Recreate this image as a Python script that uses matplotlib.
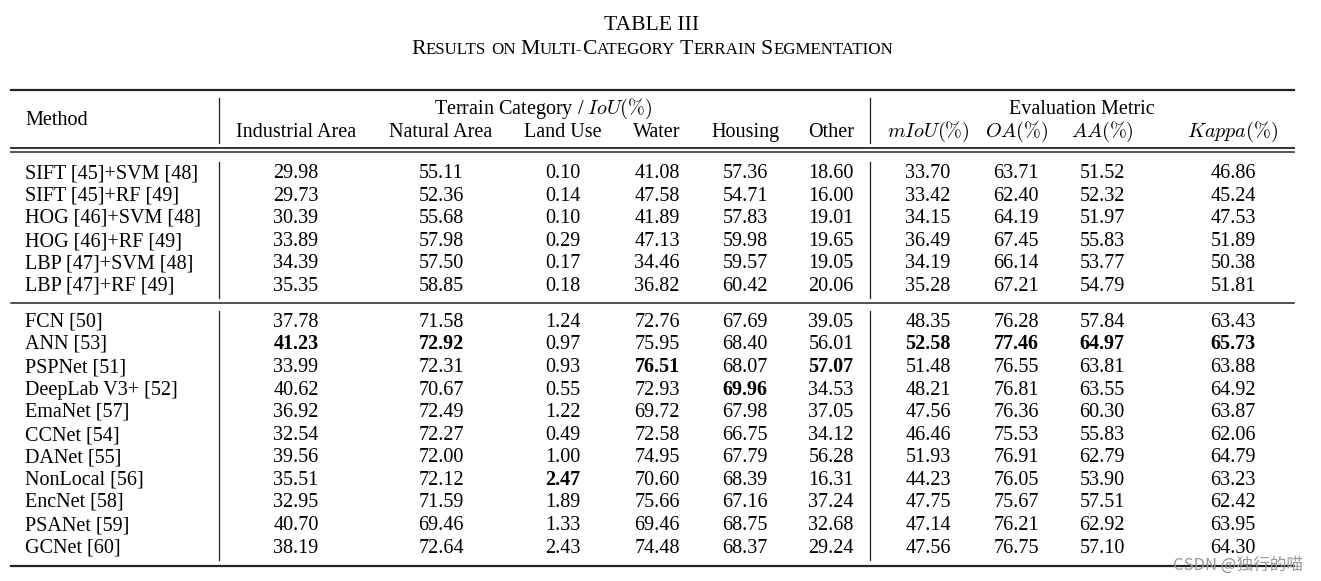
import matplotlib
matplotlib.use("Agg")
import matplotlib.pyplot as plt

plt.rcParams['font.family'] = ['Liberation Serif', 'DejaVu Serif']
plt.rcParams['mathtext.fontset'] = 'cm'

# table data
methods = ["SIFT [45]+SVM [48]", "SIFT [45]+RF [49]", "HOG [46]+SVM [48]", "HOG [46]+RF [49]",
           "LBP [47]+SVM [48]", "LBP [47]+RF [49]",
           "FCN [50]", "ANN [53]", "PSPNet [51]", "DeepLab V3+ [52]", "EmaNet [57]", "CCNet [54]",
           "DANet [55]", "NonLocal [56]", "EncNet [58]", "PSANet [59]", "GCNet [60]"]
industrial = ["29.98", "29.73", "30.39", "33.89", "34.39", "35.35",
              "37.78", "41.23", "33.99", "40.62", "36.92", "32.54", "39.56", "35.51", "32.95", "40.70", "38.19"]
natural = ["55.11", "52.36", "55.68", "57.98", "57.50", "58.85",
           "71.58", "72.92", "72.31", "70.67", "72.49", "72.27", "72.00", "72.12", "71.59", "69.46", "72.64"]
land_use = ["0.10", "0.14", "0.10", "0.29", "0.17", "0.18",
            "1.24", "0.97", "0.93", "0.55", "1.22", "0.49", "1.00", "2.47", "1.89", "1.33", "2.43"]
water = ["41.08", "47.58", "41.89", "47.13", "34.46", "36.82",
         "72.76", "75.95", "76.51", "72.93", "69.72", "72.58", "74.95", "70.60", "75.66", "69.46", "74.48"]
housing = ["57.36", "54.71", "57.83", "59.98", "59.57", "60.42",
           "67.69", "68.40", "68.07", "69.96", "67.98", "66.75", "67.79", "68.39", "67.16", "68.75", "68.37"]
other = ["18.60", "16.00", "19.01", "19.65", "19.05", "20.06",
         "39.05", "56.01", "57.07", "34.53", "37.05", "34.12", "56.28", "16.31", "37.24", "32.68", "29.24"]
miou = ["33.70", "33.42", "34.15", "36.49", "34.19", "35.28",
        "48.35", "52.58", "51.48", "48.21", "47.56", "46.46", "51.93", "44.23", "47.75", "47.14", "47.56"]
oa = ["63.71", "62.40", "64.19", "67.45", "66.14", "67.21",
      "76.28", "77.46", "76.55", "76.81", "76.36", "75.53", "76.91", "76.05", "75.67", "76.21", "76.75"]
aa = ["51.52", "52.32", "51.97", "55.83", "53.77", "54.79",
      "57.84", "64.97", "63.81", "63.55", "60.30", "55.83", "62.79", "53.90", "57.51", "62.92", "57.10"]
kappa = ["46.86", "45.24", "47.53", "51.89", "50.38", "51.81",
         "63.43", "65.73", "63.88", "64.92", "63.87", "62.06", "64.79", "63.23", "62.42", "63.95", "64.30"]

columns = [industrial, natural, land_use, water, housing, other, miou, oa, aa, kappa]
col_names = ["Industrial Area", "Natural Area", "Land Use", "Water", "Housing", "Other",
             r"$mIoU(\%)$", r"$OA(\%)$", r"$AA(\%)$", r"$Kappa(\%)$"]
# best values (row, column) in bold
bold_cells = [(7, 0), (7, 1), (13, 2), (8, 3), (9, 4), (8, 5), (7, 6), (7, 7), (7, 8), (7, 9)]

col_x = [296, 441, 563, 657, 745, 831, 928, 1016, 1102, 1233]
row_y = [172, 195, 217, 240, 262, 285,
         321, 343, 366, 389, 411, 434, 456, 479, 501, 524, 547]
fs = 14.5
base = 6  # baseline offset below row centre

fig = plt.figure(figsize=(13.21, 5.81), dpi=100)
ax = fig.add_axes([0, 0, 1, 1])
ax.set_xlim(0, 1321)
ax.set_ylim(581, 0)
ax.axis('off')

# title
ax.text(652, 30, "TABLE III", ha='center', va='baseline', fontsize=15.6)

big, small = 15.6, 12.2
title_words = [[("R", big), ("ESULTS", small)], [("ON", small)],
               [("M", big), ("ULTI-", small), ("C", big), ("ATEGORY", small)],
               [("T", big), ("ERRAIN", small)], [("S", big), ("EGMENTATION", small)]]
renderer = fig.canvas.get_renderer()
pieces = []
x = 0
gap = 5
for word in title_words:
    for s, size in word:
        t = ax.text(x, 54.5, s, fontsize=size, ha='left', va='baseline')
        w = t.get_window_extent(renderer).width
        pieces.append(t)
        x += w
    x += gap
total = x - gap
shift = 652 - total / 2
for t in pieces:
    px, py = t.get_position()
    t.set_position((px + shift, py))

# rules
ax.plot([11, 1294], [90, 90], color='#222222', lw=1.6)
ax.plot([11, 1294], [147.5, 147.5], color='#333333', lw=1.4)
ax.plot([11, 1294], [151.5, 151.5], color='#555555', lw=1.4)
ax.plot([11, 1294], [303, 303], color='#222222', lw=1.1)
ax.plot([11, 1294], [566, 566], color='#222222', lw=1.6)
for vx in (219, 870):
    ax.plot([vx, vx], [98, 143], color='#222222', lw=0.9)
    ax.plot([vx, vx], [162, 298], color='#222222', lw=0.9)
    ax.plot([vx, vx], [311, 560], color='#222222', lw=0.9)

# header
ax.text(25, 119 + base, "Method", ha='left', va='baseline', fontsize=fs)
ax.text(543, 108 + base, r"Terrain Category / $IoU(\%)$", ha='center', va='baseline', fontsize=fs)
ax.text(1082, 108 + base, "Evaluation Metric", ha='center', va='baseline', fontsize=fs)
for cx, name in zip(col_x, col_names):
    ax.text(cx, 131 + base, name, ha='center', va='baseline', fontsize=fs)

# body
for i, (m, ry) in enumerate(zip(methods, row_y)):
    ax.text(25, ry + base, m, ha='left', va='baseline', fontsize=fs)
    for j, (cx, col) in enumerate(zip(col_x, columns)):
        weight = 'bold' if (i, j) in bold_cells else 'normal'
        ax.text(cx, ry + base, col[i], ha='center', va='baseline', fontsize=fs, fontweight=weight)

# watermark
ax.text(1238, 565, "CSDN @独行的喵", ha='center', va='center', fontsize=12, color='#999999',
        family=['Noto Sans CJK SC', 'DejaVu Sans'])

fig.savefig("out.png", dpi=100)
